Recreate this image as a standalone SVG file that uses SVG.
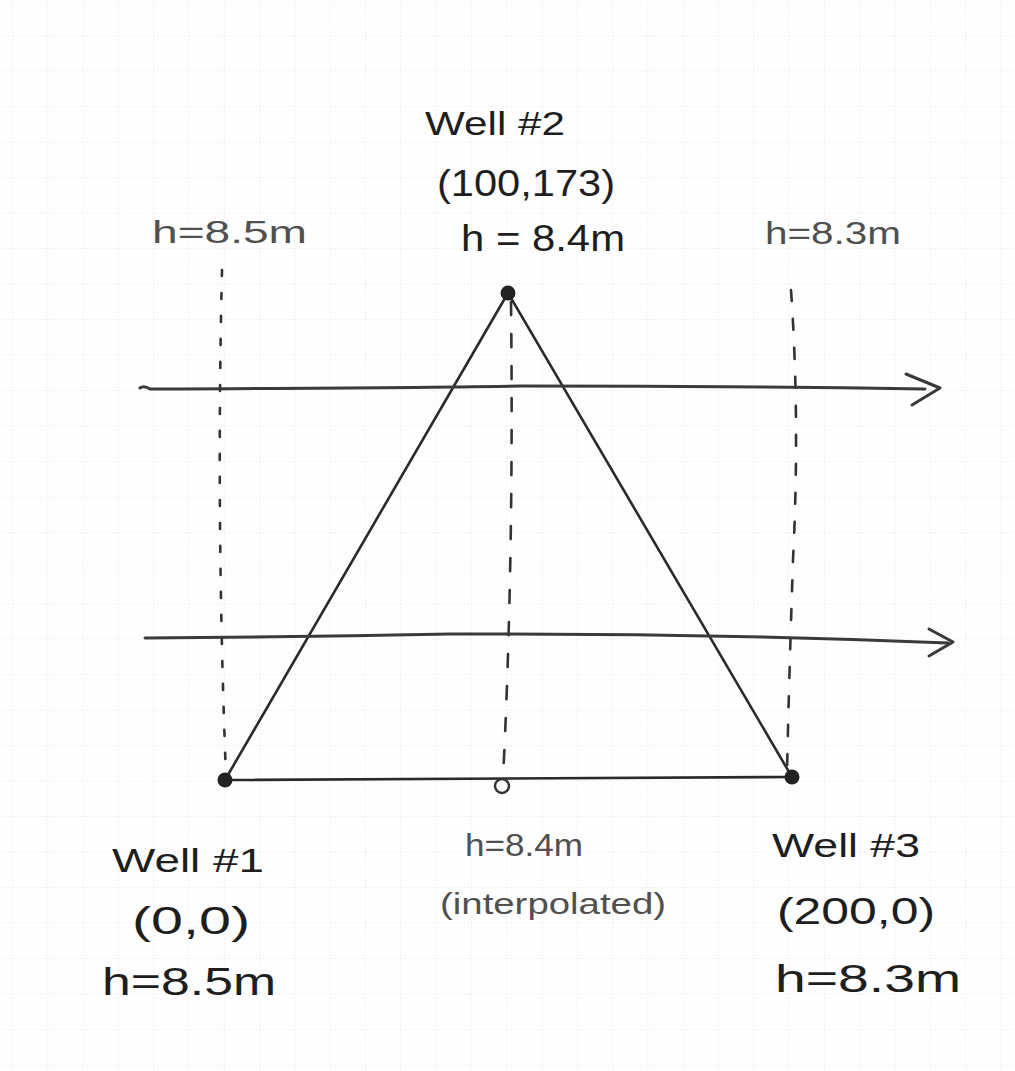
<svg xmlns="http://www.w3.org/2000/svg" width="1015" height="1071" viewBox="0 0 1015 1071">
<defs>
<pattern id="grid" x="12" y="35" width="35.3" height="35.5" patternUnits="userSpaceOnUse">
<path d="M0,0 H35.3 M0,0 V35.5" fill="none" stroke="#d9d9d9" stroke-width="1" stroke-dasharray="1.5 2.5"/>
</pattern>
</defs>
<style>
.ink{font-family:"Liberation Sans","DejaVu Sans",sans-serif;fill:#1e1e1e;}
.pencil{font-family:"Liberation Sans","DejaVu Sans",sans-serif;fill:#505050;}
.line{fill:none;stroke:#2a2a2a;stroke-width:2.6;stroke-linecap:round;stroke-linejoin:round;}
.flow{fill:none;stroke:#3a3a3a;stroke-width:3;stroke-linecap:round;stroke-linejoin:round;}
.dash{fill:none;stroke:#333;stroke-width:2.6;stroke-linecap:round;}
.dot{fill:#222;}
</style>
<rect width="1015" height="1071" fill="#fefefe"/>
<rect width="1015" height="1071" fill="url(#grid)"/>

<g id="connectors">
<path class="line" d="M225,780 L508,293 L792,777 Z"/>
<path class="dash" d="M222,270 Q216,520 226,776" stroke-dasharray="6 17"/>
<path class="dash" d="M511,302 Q514,560 503,778" stroke-dasharray="13 19"/>
<path class="dash" d="M791,290 Q800,420 793,560 Q789,680 787,772" stroke-dasharray="11 18"/>
<path class="flow" d="M140,388 Q144,385 150,389 Q400,388 520,386 Q720,386 925,389"/>
<path class="flow" d="M906,374 L940,388 L912,405"/>
<path class="flow" d="M145,638 Q300,637 450,634 Q700,633 948,643"/>
<path class="flow" d="M929,629 L953,642 L929,656"/>
</g>

<g id="well2">
<circle class="dot" cx="508" cy="293" r="7.5"/>
<text class="ink" x="425" y="135" font-size="33" textLength="140" lengthAdjust="spacingAndGlyphs">Well #2</text>
<text class="ink" x="437" y="196" font-size="37" textLength="178" lengthAdjust="spacingAndGlyphs">(100,173)</text>
<text class="ink" x="461" y="251" font-size="37" textLength="164" lengthAdjust="spacingAndGlyphs">h = 8.4m</text>
</g>

<g id="label-left-top">
<text class="pencil" x="152" y="243" font-size="32" textLength="155" lengthAdjust="spacingAndGlyphs">h=8.5m</text>
</g>
<g id="label-right-top">
<text class="pencil" x="765" y="244" font-size="32" textLength="136" lengthAdjust="spacingAndGlyphs">h=8.3m</text>
</g>

<g id="well1">
<circle class="dot" cx="225" cy="780" r="7.5"/>
<text class="ink" x="112" y="872" font-size="33" textLength="152" lengthAdjust="spacingAndGlyphs">Well #1</text>
<text class="ink" x="132" y="934" font-size="38" textLength="118" lengthAdjust="spacingAndGlyphs">(0,0)</text>
<text class="ink" x="102" y="995" font-size="39" textLength="174" lengthAdjust="spacingAndGlyphs">h=8.5m</text>
</g>

<g id="interpolated">
<circle cx="502" cy="786" r="7" fill="none" stroke="#333" stroke-width="2.4"/>
<text class="pencil" x="465" y="856" font-size="31" textLength="118" lengthAdjust="spacingAndGlyphs">h=8.4m</text>
<text class="pencil" x="440" y="914" font-size="29" textLength="226" lengthAdjust="spacingAndGlyphs">(interpolated)</text>
</g>

<g id="well3">
<circle class="dot" cx="792" cy="777" r="7.5"/>
<text class="ink" x="772" y="857" font-size="33" textLength="148" lengthAdjust="spacingAndGlyphs">Well #3</text>
<text class="ink" x="777" y="924" font-size="37" textLength="158" lengthAdjust="spacingAndGlyphs">(200,0)</text>
<text class="ink" x="775" y="992" font-size="39" textLength="186" lengthAdjust="spacingAndGlyphs">h=8.3m</text>
</g>
</svg>
